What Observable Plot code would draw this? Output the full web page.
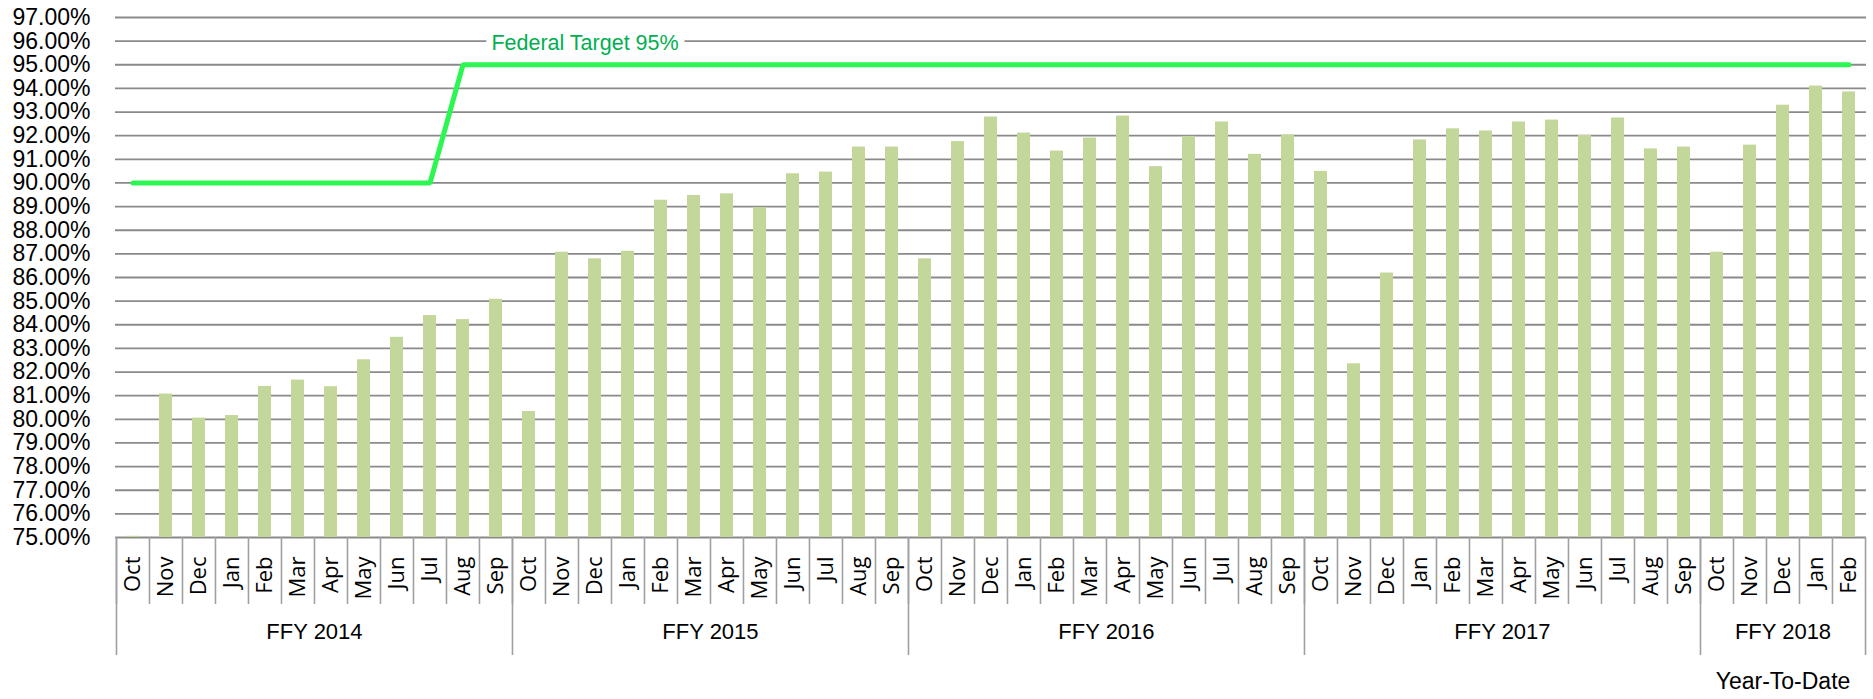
<!DOCTYPE html>
<html>
<head>
<meta charset="utf-8">
<script src="https://cdn.jsdelivr.net/npm/d3@7"></script>
<script src="https://cdn.jsdelivr.net/npm/@observablehq/plot@0.6"></script>
<style>
  html, body { margin: 0; padding: 0; background: #ffffff; }
  #chart { width: 1873px; height: 699px; overflow: hidden; }
</style>
</head>
<body>
<div id="chart"></div>
<script>
// ---------- data ----------
const fiscalYears = ["FFY 2014", "FFY 2015", "FFY 2016", "FFY 2017", "FFY 2018"];
const monthNames = ["Oct", "Nov", "Dec", "Jan", "Feb", "Mar", "Apr", "May", "Jun", "Jul", "Aug", "Sep"];
const monthsPerYear = [12, 12, 12, 12, 5];

// monthly rate (%), Oct 2013 .. Feb 2018
const rates = [
  75.05, 81.07, 80.05, 80.16, 81.39, 81.66, 81.38, 82.52, 83.47, 84.39, 84.22, 85.08,   // FFY 2014
  80.33, 87.07, 86.79, 87.11, 89.27, 89.47, 89.54, 88.96, 90.39, 90.46, 91.52, 91.52,   // FFY 2015
  86.79, 91.75, 92.79, 92.11, 91.35, 91.90, 92.83, 90.69, 91.97, 92.58, 91.21, 92.03,   // FFY 2016
  90.49, 82.35, 86.19, 91.82, 92.29, 92.20, 92.58, 92.66, 92.01, 92.75, 91.44, 91.52,   // FFY 2017
  87.07, 91.60, 93.29, 94.10, 93.85                                                     // FFY 2018
];

// federal target (%)
const targets = [
  90, 90, 90, 90, 90, 90, 90, 90, 90, 90, 95, 95,
  95, 95, 95, 95, 95, 95, 95, 95, 95, 95, 95, 95,
  95, 95, 95, 95, 95, 95, 95, 95, 95, 95, 95, 95,
  95, 95, 95, 95, 95, 95, 95, 95, 95, 95, 95, 95,
  95, 95, 95, 95, 95
];

const yTicks = [75, 76, 77, 78, 79, 80, 81, 82, 83, 84, 85, 86, 87, 88, 89, 90, 91, 92, 93, 94, 95, 96, 97];
const targetLabel = "Federal Target 95%";
const footLabel = "Year-To-Date";

// ---------- build table ----------
const keys = [];
const yearKeys = [];
fiscalYears.forEach((fy, f) => {
  const ks = [];
  for (let m = 0; m < monthsPerYear[f]; m++) {
    const k = fy + "|" + monthNames[m];
    keys.push(k); ks.push(k);
  }
  yearKeys.push(ks);
});
const data = keys.map((k, i) => ({ key: k, rate: rates[i], target: targets[i] }));

// ---------- layout ----------
const W = 1873, H = 699, ML = 115, MR = 7, MT = 17, MB = 162;
const step = (W - ML - MR) / keys.length;
const sans = "'Liberation Sans', Arial, sans-serif";
const openSans = "'Open Sans', sans-serif";
const gridColor = "#8a8a8a";
const sepColor = "#a0a0a0";

// FFY group labels (centered under each fiscal year)
const fyMarks = yearKeys.map((ks, f) => {
  const n = ks.length;
  const even = n % 2 === 0;
  const midKey = even ? ks[n / 2] : ks[(n - 1) / 2];
  return { key: midKey, label: fiscalYears[f], dx: even ? -step / 2 : 0 };
});
const lastYear = fyMarks[fyMarks.length - 1];

const marks = [
  Plot.gridY(yTicks, { stroke: gridColor, strokeOpacity: 1, strokeWidth: 1.8 }),
  Plot.barY(data, { x: "key", y1: 75, y2: "rate", fill: "#C4D79B" }),
  Plot.line(data, { x: "key", y: "target", stroke: "#2CF752", strokeWidth: 5, strokeLinecap: "round", strokeLinejoin: "miter" }),
  Plot.text([{ key: keys[14], y: 95.9, label: targetLabel }], {
    x: "key", y: "y", text: "label", dx: -10, fill: "#00B050",
    stroke: "white", strokeWidth: 14, fontSize: 21.5, fontFamily: sans
  }),
  // y axis labels
  Plot.axisY({ ticks: yTicks, tickSize: 0, tickPadding: 25, tickFormat: d => d.toFixed(2) + "%",
    fontSize: 23, fontFamily: sans, fill: "#000", label: null }),
  // month labels
  Plot.axisX({ ticks: keys, tickSize: 0, tickPadding: 19, tickRotate: -90,
    tickFormat: k => k.split("|")[1], fontSize: 22, fontFamily: openSans, fill: "#000", label: null }),
  // month separators
  Plot.axisX({ ticks: keys, tickSize: 67, dx: -step / 2, tickFormat: () => "", stroke: sepColor, strokeWidth: 1.6, label: null }),
  // fiscal year separators
  Plot.axisX({ ticks: yearKeys.map(ks => ks[0]), tickSize: 118, dx: -step / 2, tickFormat: () => "", stroke: sepColor, strokeWidth: 1.6, label: null }),
  Plot.axisX({ ticks: [keys[keys.length - 1]], tickSize: 118, dx: step / 2, tickFormat: () => "", stroke: sepColor, strokeWidth: 1.6, label: null }),
];
fyMarks.forEach(d => {
  marks.push(Plot.text([d], { x: "key", text: "label", frameAnchor: "bottom", dy: 101, dx: d.dx,
    fontSize: 22, fontFamily: sans, fill: "#000" }));
});
marks.push(Plot.text([{ key: lastYear.key, label: footLabel }], { x: "key", text: "label", frameAnchor: "bottom",
  dy: 151, dx: lastYear.dx, fontSize: 23, fontFamily: sans, fill: "#000" }));

const chart = Plot.plot({
  width: W, height: H,
  marginLeft: ML, marginRight: MR, marginTop: MT, marginBottom: MB,
  style: { background: "#ffffff", fontFamily: sans, overflow: "visible" },
  x: { type: "band", domain: keys, paddingInner: 0.6, paddingOuter: 0.3 },
  y: { domain: [75, 97] },
  marks
});
document.getElementById("chart").appendChild(chart);
</script>
</body>
</html>
